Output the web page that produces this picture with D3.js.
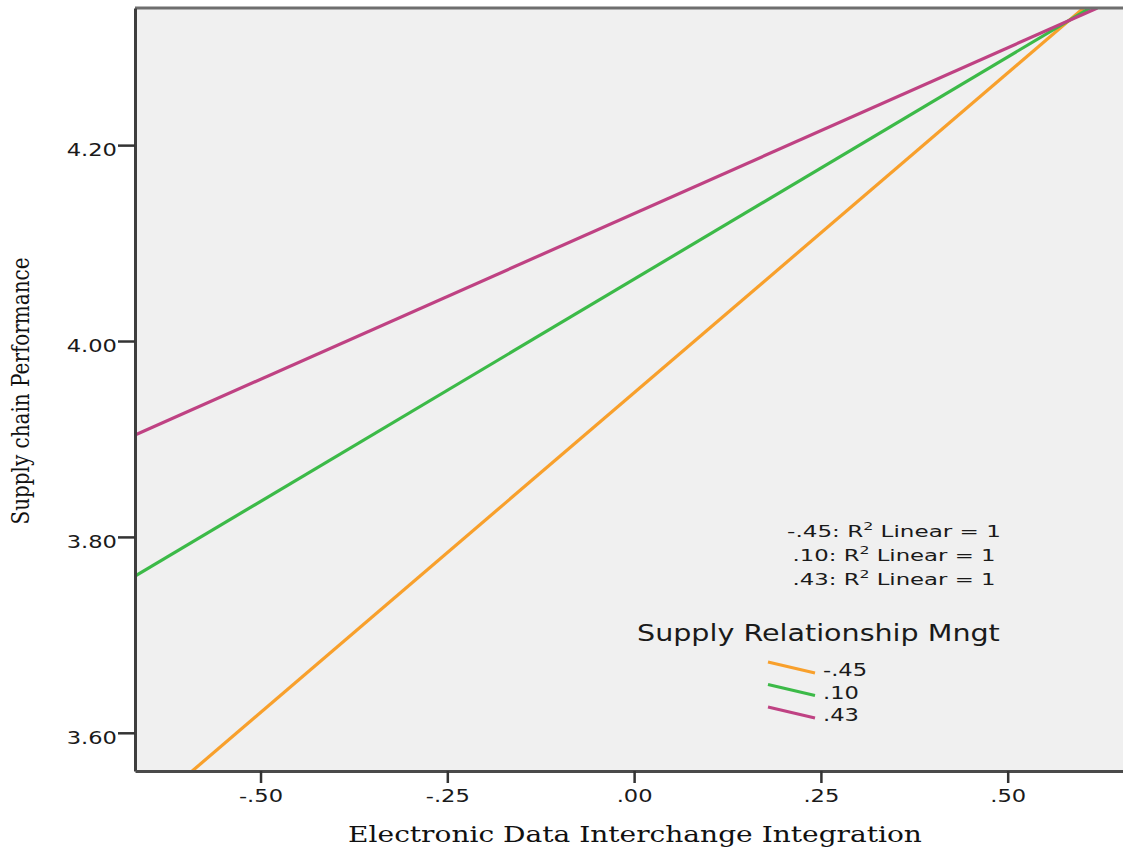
<!DOCTYPE html>
<html>
<head>
<meta charset="utf-8">
<script src="https://cdn.jsdelivr.net/npm/d3@7"></script>
<style>
  html, body { margin: 0; padding: 0; background: #ffffff; }
  svg { display: block; }
</style>
</head>
<body>
<svg id="chart" width="1123" height="849"></svg>
<script>
// Fitted lines of Supply chain Performance on EDI Integration,
// one per level of Supply Relationship Mngt.
const groups = ["-.45", ".10", ".43"];
const fitLabels = ["-.45: R", ".10: R", ".43: R"];
const xEndpoints = [-0.668, 0.62];
const yAtStart = [3.511, 3.760, 3.904];
const yAtEnd = [4.352, 4.3445, 4.340];

const xTickValues = [-0.5, -0.25, 0, 0.25, 0.5];
const xTickLabels = ["-.50", "-.25", ".00", ".25", ".50"];
const yTickValues = [3.6, 3.8, 4.0, 4.2];
const yTickLabels = ["3.60", "3.80", "4.00", "4.20"];

const colors = ["#f8a02c", "#3cba48", "#bf4283"];

const svg = d3.select("#chart");
const plotLeft = 135, plotRight = 1125, plotTop = 8, plotBottom = 771;

const x = d3.scaleLinear().domain([-0.668, 0.657]).range([plotLeft, plotRight]);
const y = d3.scaleLinear().domain([3.561, 4.340]).range([plotBottom, plotTop]);

// plot background
svg.append("rect")
  .attr("x", plotLeft).attr("y", plotTop)
  .attr("width", plotRight - plotLeft).attr("height", plotBottom - plotTop)
  .attr("fill", "#f0f0f0");

svg.append("defs").append("clipPath").attr("id", "plotClip")
  .append("rect")
  .attr("x", plotLeft).attr("y", plotTop)
  .attr("width", plotRight - plotLeft).attr("height", plotBottom - plotTop);

// horizontal stretch applied to text, around its anchor point
function widen(sel, sx) {
  sel.each(function () {
    const t = d3.select(this);
    const ox = +t.attr("x") || 0;
    t.attr("x", ox / sx);
    const prev = t.attr("transform") || "";
    t.attr("transform", prev + ` scale(${sx},1)`);
  });
}
function fitWidth(node, target) {
  const w = node.getBBox().width;
  return target / w;
}

// fit lines
const lineGen = d3.line().x(d => x(d[0])).y(d => y(d[1]));
const lineData = groups.map((g, i) => [[xEndpoints[0], yAtStart[i]], [xEndpoints[1], yAtEnd[i]]]);
svg.append("g").attr("clip-path", "url(#plotClip)")
  .selectAll("path").data(lineData).join("path")
  .attr("d", lineGen)
  .attr("fill", "none")
  .attr("stroke", (d, i) => colors[i])
  .attr("stroke-width", 3.2);

// frame
svg.append("line").attr("x1", plotLeft).attr("x2", plotRight).attr("y1", plotTop).attr("y2", plotTop)
  .attr("stroke", "#6e6e6e").attr("stroke-width", 3);

// y axis
const yAxis = d3.axisLeft(y).tickValues(yTickValues)
  .tickFormat((d, i) => yTickLabels[i]).tickSize(17).tickSizeOuter(0);
const gy = svg.append("g").attr("transform", `translate(${plotLeft},0)`).call(yAxis);
gy.select(".domain").attr("stroke", "#3e3e3e").attr("stroke-width", 3);
gy.selectAll(".tick line").attr("stroke", "#333").attr("stroke-width", 2.5);
gy.selectAll(".tick text")
  .attr("font-family", "DejaVu Sans").attr("font-size", 17).attr("fill", "#1a1a1a")
  .attr("x", -18).attr("dy", "0.6em");
widen(gy.selectAll(".tick text"), 1.33);

// x axis
const xAxis = d3.axisBottom(x).tickValues(xTickValues)
  .tickFormat((d, i) => xTickLabels[i]).tickSize(12).tickSizeOuter(0);
const gx = svg.append("g").attr("transform", `translate(0,${plotBottom})`).call(xAxis);
gx.select(".domain").attr("stroke", "#4a4a4a").attr("stroke-width", 3);
gx.selectAll(".tick line").attr("stroke", "#333").attr("stroke-width", 2.5);
gx.selectAll(".tick text")
  .attr("font-family", "DejaVu Sans").attr("font-size", 17).attr("fill", "#1a1a1a")
  .attr("y", 31).attr("dy", 0);
widen(gx.selectAll(".tick text"), 1.33);

// axis titles
const xt = svg.append("text")
  .attr("font-family", "DejaVu Serif").attr("font-size", 22).attr("fill", "#111")
  .attr("text-anchor", "middle").attr("x", 0).attr("y", 0)
  .text("Electronic Data Interchange Integration");
xt.attr("transform", `translate(635,842) scale(${fitWidth(xt.node(), 574)},1)`);

const yt = svg.append("text")
  .attr("font-family", "DejaVu Serif").attr("font-size", 25).attr("fill", "#111")
  .attr("text-anchor", "middle").attr("x", 0).attr("y", 0)
  .text("Supply chain Performance");
yt.attr("transform", `translate(29,391) rotate(-90) scale(${fitWidth(yt.node(), 267)},1)`);

// fit statistics
const fitWidths = [214, 203, 203];
fitLabels.forEach((lab, i) => {
  const t = svg.append("text")
    .attr("font-family", "DejaVu Sans").attr("font-size", 16).attr("fill", "#1a1a1a")
    .attr("text-anchor", "middle");
  t.append("tspan").text(lab);
  t.append("tspan").attr("font-size", 11).attr("dy", -7).text("2");
  t.append("tspan").attr("dy", 7).text(" Linear = 1");
  t.attr("transform", `translate(894,${537 + i * 24}) scale(${fitWidth(t.node(), fitWidths[i])},1)`);
});

// legend
const lt = svg.append("text")
  .attr("font-family", "DejaVu Sans").attr("font-size", 23).attr("fill", "#1a1a1a")
  .attr("text-anchor", "start")
  .text("Supply Relationship Mngt");
lt.attr("transform", `translate(637,641) scale(${fitWidth(lt.node(), 363)},1)`);

const leg = svg.append("g").selectAll("g").data(groups).join("g")
  .attr("transform", (d, i) => `translate(768,${662 + i * 22.5})`);
leg.append("line")
  .attr("x1", 0).attr("y1", 0).attr("x2", 47).attr("y2", 11)
  .attr("stroke", (d, i) => colors[i]).attr("stroke-width", 3);
leg.append("text")
  .attr("font-family", "DejaVu Sans").attr("font-size", 17).attr("fill", "#1a1a1a")
  .attr("x", 55).attr("y", 14)
  .text(d => d);
widen(leg.selectAll("text"), 1.33);
</script>
</body>
</html>
